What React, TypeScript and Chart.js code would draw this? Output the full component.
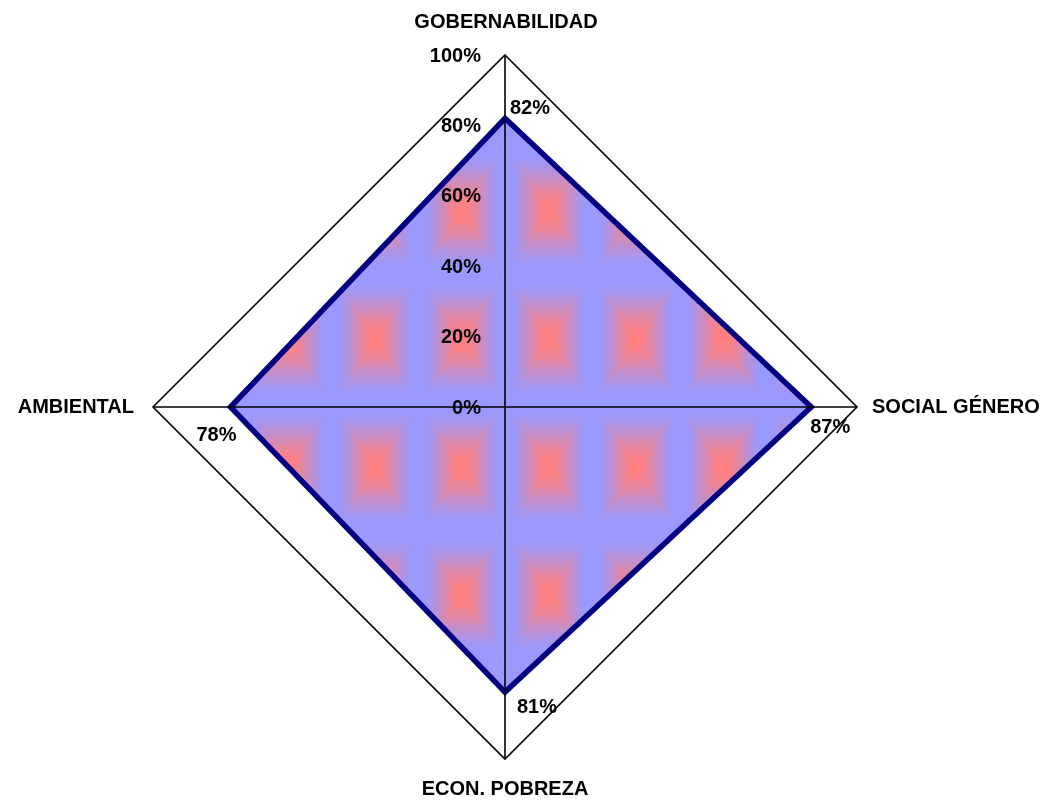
import React, { useEffect, useRef } from 'react';
import { Chart, registerables } from 'chart.js';

Chart.register(...registerables);

const categories = ['GOBERNABILIDAD', 'SOCIAL GÉNERO', 'ECON. POBREZA', 'AMBIENTAL'];
const values = [82, 87, 81, 78];
const tickValues = [0, 20, 40, 60, 80, 100];
const tickLabels = ['0%', '20%', '40%', '60%', '80%', '100%'];
const valueLabels = ['82%', '87%', '81%', '78%'];

const FONT = 'bold 20px "Liberation Sans", Arial, sans-serif';

function makePattern(ctx: CanvasRenderingContext2D): CanvasPattern | string {
  const w = 87;
  const h = 128;
  const off = document.createElement('canvas');
  off.width = w;
  off.height = h;
  const octx = off.getContext('2d');
  if (!octx) return '#9999FF';
  const img = octx.createImageData(w, h);
  const pink = [255, 128, 128];
  const blue = [153, 153, 255];
  for (let y = 0; y < h; y++) {
    for (let x = 0; x < w; x++) {
      const dx = Math.abs(x + 0.5 - w / 2) / (w / 2);
      const dy = Math.abs(y + 0.5 - h / 2) / (h / 2);
      const t = Math.max(dx, dy);
      let m = (t - 0.06) / 0.82;
      m = Math.max(0, Math.min(1, m));
      m = m * m * (3 - 2 * m) * 0.6 + m * 0.4;
      const i = (y * w + x) * 4;
      img.data[i] = Math.round(pink[0] * (1 - m) + blue[0] * m);
      img.data[i + 1] = Math.round(pink[1] * (1 - m) + blue[1] * m);
      img.data[i + 2] = Math.round(pink[2] * (1 - m) + blue[2] * m);
      img.data[i + 3] = 255;
    }
  }
  octx.putImageData(img, 0, 0);
  const pat = ctx.createPattern(off, 'repeat');
  if (!pat) return '#9999FF';
  pat.setTransform(new DOMMatrix([1, 0, 0, 1, 375 - w / 2, 339 - h / 2]));
  return pat;
}

const labelsPlugin = {
  id: 'customLabels',
  afterDraw(chart: any) {
    const ctx: CanvasRenderingContext2D = chart.ctx;
    const scale = chart.scales.r;
    ctx.save();
    ctx.font = FONT;
    ctx.fillStyle = '#000';
    // tick labels
    ctx.textAlign = 'right';
    ctx.textBaseline = 'middle';
    tickValues.forEach((v, i) => {
      const d = scale.getDistanceFromCenterForValue(v);
      ctx.fillText(tickLabels[i], scale.xCenter - 24, scale.yCenter - d + 1);
    });
    // category labels
    const outer = scale.getDistanceFromCenterForValue(100);
    const catOffsets = [
      { dx: 1, dy: -33, align: 'center' },
      { dx: 15, dy: 0, align: 'left' },
      { dx: 0, dy: 30, align: 'center' },
      { dx: -19, dy: 0, align: 'right' },
    ];
    categories.forEach((c, i) => {
      const p = scale.getPointPosition(i, outer);
      const o = catOffsets[i];
      ctx.textAlign = o.align as CanvasTextAlign;
      ctx.fillText(c, p.x + o.dx, p.y + o.dy);
    });
    // value labels
    const meta = chart.getDatasetMeta(0);
    const valOffsets = [
      { dx: 5, dy: -10, align: 'left' },
      { dx: 19, dy: 20, align: 'center' },
      { dx: 12, dy: 15, align: 'left' },
      { dx: -14, dy: 28, align: 'center' },
    ];
    meta.data.forEach((pt: any, i: number) => {
      const o = valOffsets[i];
      ctx.textAlign = o.align as CanvasTextAlign;
      ctx.fillText(valueLabels[i], pt.x + o.dx, pt.y + o.dy);
    });
    ctx.restore();
  },
};

export default function App() {
  const ref = useRef<HTMLCanvasElement | null>(null);
  useEffect(() => {
    const canvas = ref.current;
    if (!canvas) return;
    const ctx = canvas.getContext('2d');
    if (!ctx) return;
    const pattern = makePattern(ctx);
    const chart = new Chart(ctx, {
      type: 'radar',
      data: {
        labels: categories,
        datasets: [
          {
            data: values,
            backgroundColor: pattern as any,
            borderColor: '#000080',
            borderWidth: 5.5,
            pointRadius: 0,
            pointHoverRadius: 0,
            fill: true,
            tension: 0,
            borderJoinStyle: 'miter',
          },
        ],
      },
      options: {
        responsive: false,
        animation: false,
        layout: { padding: { top: 55, bottom: 41, left: 153, right: 191 } },
        plugins: { legend: { display: false }, tooltip: { enabled: false } },
        scales: {
          r: {
            min: 0,
            max: 100,
            startAngle: 0,
            ticks: { display: false, stepSize: 20 },
            pointLabels: { display: false },
            grid: {
              z: 1,
              lineWidth: 1.6,
              color: (c: any) => (c.tick && c.tick.value === 100 ? '#000000' : 'rgba(0,0,0,0)'),
            },
            angleLines: { display: true, color: '#000000', lineWidth: 1.6 },
          },
        },
      },
      plugins: [labelsPlugin],
    } as any);
    return () => chart.destroy();
  }, []);
  return (
    <div style={{ position: 'absolute', left: 0, top: 0, width: 1048, height: 800, background: '#fff' }}>
      <canvas ref={ref} width={1048} height={800} />
    </div>
  );
}
